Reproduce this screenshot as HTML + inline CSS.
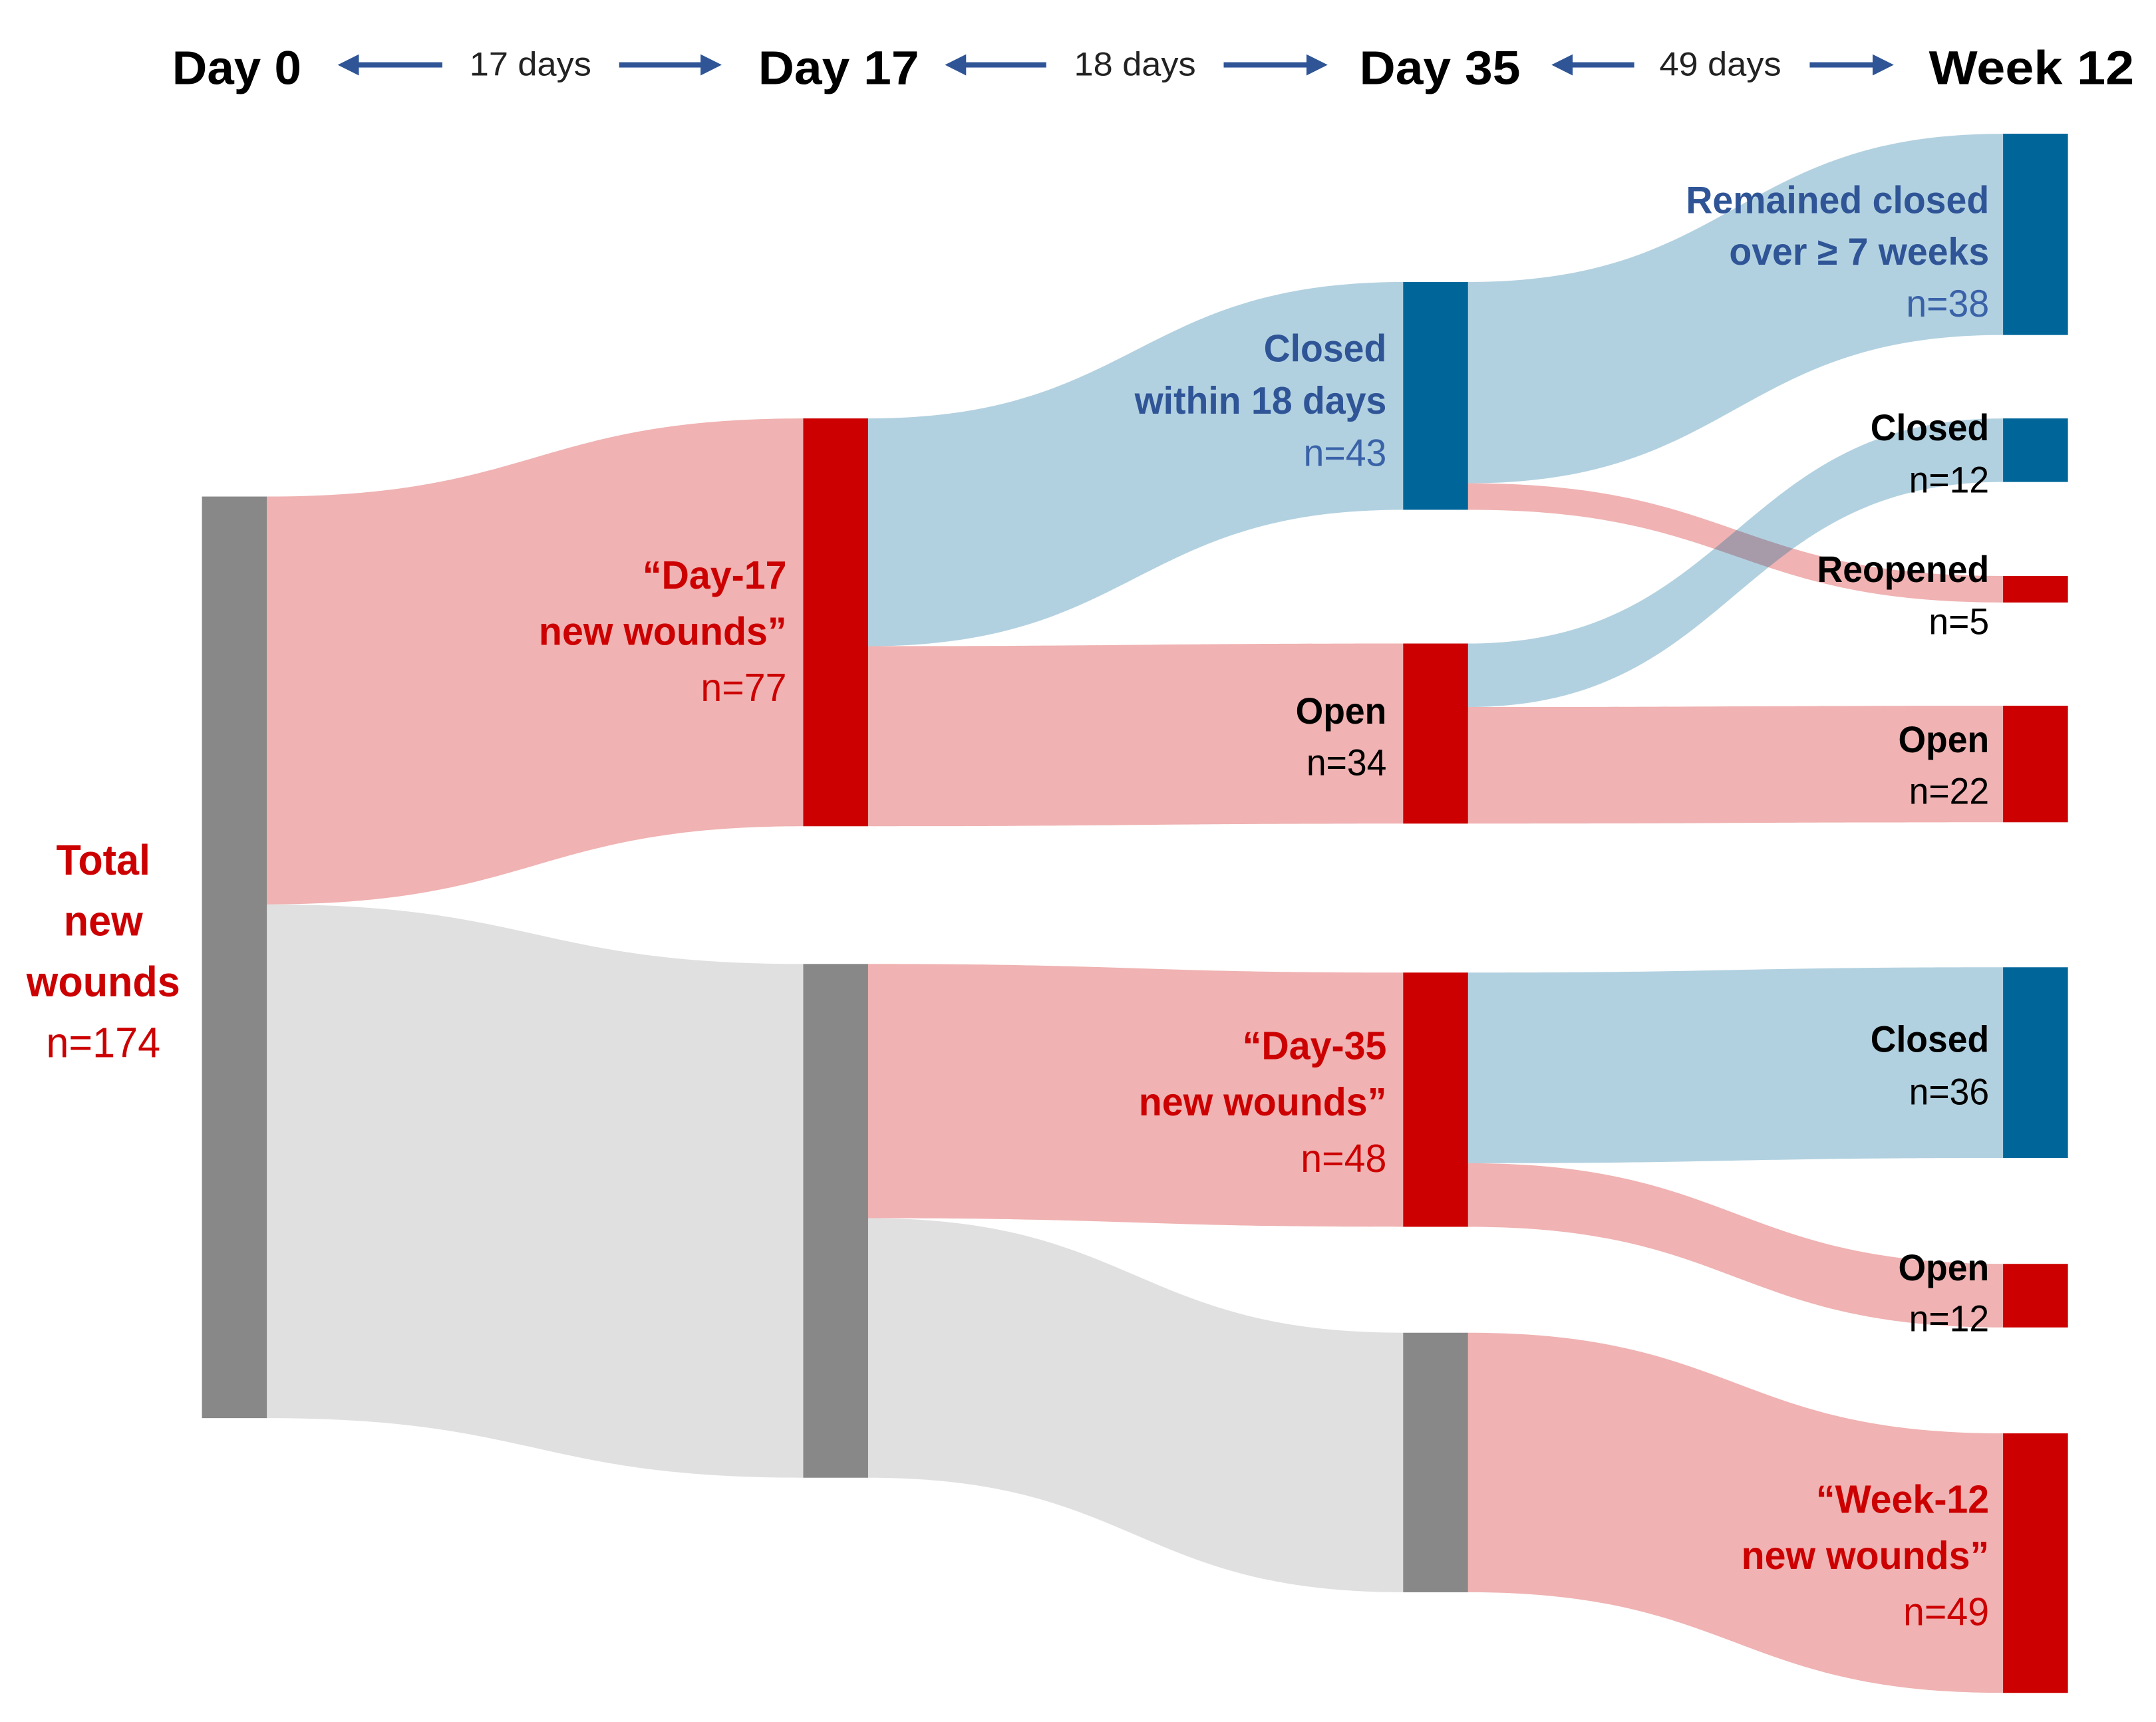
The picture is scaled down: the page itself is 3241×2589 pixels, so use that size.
<!DOCTYPE html>
<html><head><meta charset="utf-8"><style>
html,body{margin:0;padding:0;background:#fff;}
svg{display:block;font-family:"Liberation Sans",sans-serif;}
</style></head><body>
<svg id="chart" width="3241" height="2589" viewBox="0 0 3241 2589" xmlns="http://www.w3.org/2000/svg">
<g transform="scale(0.9954)">
<g id="header"></g>
<g id="links"></g>
<g id="nodes"></g>
<g id="labels"></g>
</g>
</svg>
<script>
// ---- data ----
const stageNames = ["Day 0", "Day 17", "Day 35", "Week 12"];
const intervalLabels = ["17 days", "18 days", "49 days"];
const nodeIds = ["total","d17new","d17rest","closed18","open34","d35new","d35rest","remained","closed12","reopened","open22","closed36","open12","w12new"];
const nodeValues = [174, 77, 97, 43, 34, 48, 49, 38, 12, 5, 22, 36, 12, 49];
const nodeStage = [0, 1, 1, 2, 2, 2, 2, 3, 3, 3, 3, 3, 3, 3];
const nodeKind = ["grey","red","grey","blue","red","red","grey","blue","blue","red","red","blue","red","red"];
const linkSource = ["total","total","d17new","d17new","d17rest","d17rest","closed18","closed18","open34","open34","d35new","d35new","d35rest"];
const linkTarget = ["d17new","d17rest","closed18","open34","d35new","d35rest","remained","reopened","closed12","open22","closed36","open12","w12new"];
const linkValues = [77, 97, 43, 34, 48, 49, 38, 5, 12, 22, 36, 12, 49];
const linkKind = ["red","grey","blue","red","red","grey","blue","red","blue","red","blue","red","red"];
const labelLines = [
 ["Total","new","wounds","n=174"],
 ["\u201cDay-17","new wounds\u201d","n=77"],
 [],
 ["Closed","within 18 days","n=43"],
 ["Open","n=34"],
 ["\u201cDay-35","new wounds\u201d","n=48"],
 [],
 ["Remained closed","over \u2265 7 weeks","n=38"],
 ["Closed","n=12"],
 ["Reopened","n=5"],
 ["Open","n=22"],
 ["Closed","n=36"],
 ["Open","n=12"],
 ["\u201cWeek-12","new wounds\u201d","n=49"]
];

// ---- layout ----
const NS = "http://www.w3.org/2000/svg";
const unit = 8.0;
const stageX = [305, 1213, 2119, 3025];
const nodeW = 98;
const nodeTop = [750, 632, 1456, 426, 972, 1469, 2013, 202, 632, 870, 1066, 1461, 1909, 2165];
const colors = {red:"#cc0000", blue:"#006699", grey:"#888888"};
const linkOpacity = {red:0.3, blue:0.3, grey:0.26};
function yScale(v){ return v*unit; }
function mk(tag, attrs, parent){ const e=document.createElementNS(NS,tag); for(const k in attrs) e.setAttribute(k,attrs[k]); parent.appendChild(e); return e; }

// header
const hdr = document.getElementById('header');
const stageTextX = [260, 1145, 2053, 2913];
const stageTextLen = [195, 243, 243, 310];
stageNames.forEach((s,i)=>{
  const t = mk('text',{x:stageTextX[i],y:127,'font-size':72,'font-weight':'bold',fill:'#000',textLength:stageTextLen[i],lengthAdjust:'spacingAndGlyphs'},hdr);
  t.textContent = s;
  
  
});
const intTextX = [709, 1622, 2506];
const arrowL = [[510,668],[1427,1580],[2343,2468]];
const arrowR = [[935,1090],[1848,2005],[2733,2860]];
intervalLabels.forEach((s,i)=>{
  const t = mk('text',{x:intTextX[i],y:114,'font-size':50,fill:'#222',textLength:184,lengthAdjust:'spacingAndGlyphs'},hdr);
  t.textContent = s;
  
  
  const [a,b]=arrowL[i];
  const g1 = mk('g',{},hdr);
  
  
  mk('rect',{x:a+28,y:94,width:b-a-28,height:8,fill:'#2f5597'},g1);
  mk('polygon',{points:`${a},98 ${a+32},82 ${a+32},114`,fill:'#2f5597'},g1);
  const [c,d]=arrowR[i];
  const g2 = mk('g',{},hdr);
  
  
  mk('rect',{x:c,y:94,width:d-c-28,height:8,fill:'#2f5597'},g2);
  mk('polygon',{points:`${d},98 ${d-32},82 ${d-32},114`,fill:'#2f5597'},g2);
});

// nodes
const idx = {}; nodeIds.forEach((n,i)=>idx[n]=i);
const outOff = nodeIds.map(()=>0), inOff = nodeIds.map(()=>0);
const nodesG = document.getElementById('nodes');
nodeIds.forEach((n,i)=>{
  const r = mk('rect',{x:stageX[nodeStage[i]],y:nodeTop[i],width:nodeW,height:yScale(nodeValues[i]),fill:colors[nodeKind[i]]},nodesG);
  
  
});

// links
const linksG = document.getElementById('links');
linkValues.forEach((v,i)=>{
  const s = idx[linkSource[i]], t = idx[linkTarget[i]];
  const h = yScale(v);
  const x0 = stageX[nodeStage[s]]+nodeW, x1 = stageX[nodeStage[t]];
  const y0 = nodeTop[s]+outOff[s], y1 = nodeTop[t]+inOff[t];
  outOff[s]+=h; inOff[t]+=h;
  const xm = (x0+x1)/2;
  const d = `M${x0},${y0} C${xm},${y0} ${xm},${y1} ${x1},${y1} L${x1},${y1+h} C${xm},${y1+h} ${xm},${y0+h} ${x0},${y0+h} Z`;
  const p = mk('path',{d:d,fill:colors[linkKind[i]],'fill-opacity':linkOpacity[linkKind[i]]},linksG);
  
  
});

// labels
const labG = document.getElementById('labels');
const labX = [156, 1188, 0, 2094, 2094, 2094, 0, 3004, 3004, 3004, 3004, 3004, 3004, 3004];
const labY = [1321, 889, 0, 546, 1093, 1600, 0, 322, 665, 879, 1136, 1589, 1934, 2285];
const labStep = [92, 85, 0, 79, 78, 85, 0, 78, 79, 79, 78, 79, 77, 85];
const labFill = ["#cc0000","#cc0000","","#2f5597","#000","#cc0000","","#2f5597","#000","#000","#000","#000","#000","#cc0000"];
const labNFill = ["#cc0000","#cc0000","","#3a62a8","#000","#cc0000","","#3a62a8","#000","#000","#000","#000","#000","#cc0000"];
const labSize = [64, 60, 0, 58, 56, 60, 0, 58, 56, 56, 56, 56, 56, 60];
labelLines.forEach((lines,i)=>{
  if(!lines.length) return;
  const g = mk('g',{},labG);
  
  
  lines.forEach((ln,j)=>{
    const isN = ln.startsWith('n=');
    const t = mk('text',{x:labX[i],y:labY[i]+j*labStep[i],'font-size':labSize[i],
      'font-weight':isN?'normal':'bold','text-anchor':i===0?'middle':'end',
      fill:isN?labNFill[i]:labFill[i],transform:`translate(${labX[i]},0) scale(0.96,1) translate(${-labX[i]},0)`},g);
    t.textContent = ln;
  });
});
</script>
</body></html>
